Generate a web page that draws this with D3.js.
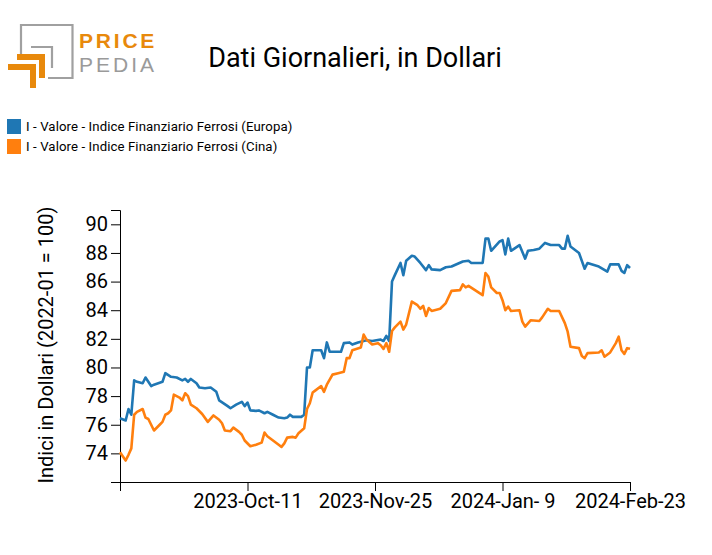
<!DOCTYPE html>
<html><head><meta charset="utf-8">
<script src="https://cdn.jsdelivr.net/npm/d3@7"></script>
<style>
html,body{margin:0;padding:0;background:#fff;}
svg{display:block;font-family:Roboto,"Noto Sans",sans-serif;}
</style></head>
<body><svg id="chart" width="712" height="555"></svg>
<script>
const seriesNames = ["I - Valore - Indice Finanziario Ferrosi (Europa)", "I - Valore - Indice Finanziario Ferrosi (Cina)"];
const seriesColors = ["#1f77b4", "#ff7f0e"];

const datesEuropa = ["2023-08-27","2023-08-29","2023-08-30","2023-08-31","2023-09-01","2023-09-02","2023-09-04","2023-09-05","2023-09-07","2023-09-08","2023-09-11","2023-09-12","2023-09-14","2023-09-16","2023-09-18","2023-09-19","2023-09-20","2023-09-21","2023-09-23","2023-09-24","2023-09-26","2023-09-28","2023-09-30","2023-10-01","2023-10-04","2023-10-05","2023-10-07","2023-10-09","2023-10-10","2023-10-11","2023-10-12","2023-10-14","2023-10-15","2023-10-17","2023-10-18","2023-10-20","2023-10-22","2023-10-24","2023-10-25","2023-10-26","2023-10-27","2023-10-30","2023-10-31","2023-11-01","2023-11-02","2023-11-03","2023-11-06","2023-11-07","2023-11-08","2023-11-09","2023-11-13","2023-11-14","2023-11-16","2023-11-17","2023-11-19","2023-11-22","2023-11-24","2023-11-27","2023-11-28","2023-11-29","2023-11-30","2023-12-01","2023-12-02","2023-12-04","2023-12-05","2023-12-06","2023-12-08","2023-12-09","2023-12-11","2023-12-13","2023-12-14","2023-12-15","2023-12-18","2023-12-20","2023-12-22","2023-12-26","2023-12-28","2023-12-29","2024-01-02","2024-01-03","2024-01-04","2024-01-05","2024-01-08","2024-01-09","2024-01-10","2024-01-11","2024-01-12","2024-01-15","2024-01-17","2024-01-18","2024-01-20","2024-01-22","2024-01-24","2024-01-26","2024-01-29","2024-01-30","2024-01-31","2024-02-01","2024-02-02","2024-02-05","2024-02-07","2024-02-08","2024-02-12","2024-02-15","2024-02-16","2024-02-19","2024-02-20","2024-02-21","2024-02-22","2024-02-23"];
const valuesEuropa = [76.45,76.3,77.1,76.7,79.1,79.0,78.9,79.3,78.7,78.8,79.0,79.6,79.35,79.3,79.1,79.2,79.0,79.2,78.9,78.6,78.55,78.6,78.3,77.7,77.3,77.15,77.4,77.6,77.3,77.55,77.0,76.97,77.0,76.8,76.9,76.7,76.5,76.45,76.5,76.7,76.55,76.55,76.7,80.0,80.0,81.2,81.2,80.65,81.75,81.1,81.1,81.7,81.75,81.6,81.75,81.9,81.85,81.95,81.85,82.2,81.85,86.0,86.45,87.3,86.45,87.45,87.8,87.75,87.3,86.8,87.15,86.85,86.8,87.0,87.05,87.4,87.45,87.3,87.3,89.0,89.0,88.15,88.8,88.9,87.9,89.0,88.15,88.55,87.6,88.15,88.2,88.3,88.7,88.55,88.55,88.3,88.3,89.2,88.45,88.0,86.9,87.3,87.05,86.7,87.2,87.2,86.75,86.6,87.15,86.95];

const datesCina = ["2023-08-27","2023-08-29","2023-08-30","2023-08-31","2023-09-01","2023-09-02","2023-09-04","2023-09-05","2023-09-06","2023-09-08","2023-09-10","2023-09-11","2023-09-12","2023-09-13","2023-09-14","2023-09-15","2023-09-17","2023-09-18","2023-09-19","2023-09-20","2023-09-21","2023-09-23","2023-09-25","2023-09-27","2023-09-29","2023-10-01","2023-10-02","2023-10-03","2023-10-05","2023-10-06","2023-10-08","2023-10-09","2023-10-10","2023-10-12","2023-10-14","2023-10-16","2023-10-17","2023-10-18","2023-10-20","2023-10-22","2023-10-23","2023-10-24","2023-10-25","2023-10-27","2023-10-28","2023-10-29","2023-10-31","2023-11-01","2023-11-02","2023-11-03","2023-11-04","2023-11-06","2023-11-07","2023-11-08","2023-11-10","2023-11-12","2023-11-14","2023-11-15","2023-11-16","2023-11-17","2023-11-20","2023-11-21","2023-11-22","2023-11-24","2023-11-26","2023-11-27","2023-11-28","2023-11-29","2023-11-30","2023-12-01","2023-12-02","2023-12-04","2023-12-05","2023-12-06","2023-12-08","2023-12-10","2023-12-11","2023-12-12","2023-12-13","2023-12-14","2023-12-15","2023-12-18","2023-12-20","2023-12-22","2023-12-25","2023-12-26","2023-12-27","2023-12-28","2024-01-02","2024-01-03","2024-01-04","2024-01-05","2024-01-07","2024-01-08","2024-01-09","2024-01-10","2024-01-11","2024-01-12","2024-01-15","2024-01-16","2024-01-17","2024-01-19","2024-01-22","2024-01-23","2024-01-25","2024-01-26","2024-01-29","2024-01-31","2024-02-01","2024-02-02","2024-02-05","2024-02-06","2024-02-07","2024-02-08","2024-02-12","2024-02-13","2024-02-14","2024-02-16","2024-02-18","2024-02-19","2024-02-20","2024-02-21","2024-02-22","2024-02-23"];
const valuesCina = [74.07,73.5,73.9,74.35,76.7,76.9,77.1,76.5,76.4,75.6,76.0,76.2,76.7,76.8,77.0,78.1,77.9,77.7,78.2,78.0,77.4,77.15,76.75,76.2,76.65,76.35,76.1,75.6,75.55,75.8,75.5,75.3,74.9,74.5,74.6,74.75,75.45,75.2,74.9,74.6,74.45,74.7,75.1,75.15,75.1,75.4,75.75,77.1,77.5,78.25,78.4,78.7,78.3,78.8,79.5,79.6,79.7,80.65,80.65,81.2,81.4,82.3,81.95,81.6,81.7,81.55,81.3,81.7,81.1,82.55,82.8,83.2,82.65,83.0,84.6,84.35,84.1,84.3,83.6,84.15,83.95,84.1,84.5,85.35,85.4,85.8,85.6,85.7,85.05,86.6,86.35,85.6,85.2,85.2,84.7,84.0,84.25,83.95,84.0,83.2,82.85,83.3,83.25,83.5,84.1,83.95,83.95,83.1,82.5,81.45,81.35,80.8,80.65,81.0,81.05,81.2,80.75,81.05,81.7,82.15,81.2,80.95,81.35,81.3];

const xTickDates = ["2023-08-27","2023-10-11","2023-11-25","2024-01-09","2024-02-23"];
const yTicks = [74,76,78,80,82,84,86,88,90];
const yDomain = [72, 91];
const titleText = "Dati Giornalieri, in Dollari";
const yLabelText = "Indici in Dollari (2022-01 = 100)";
const logoWords = ["PRICE", "PEDIA"];

const parse = d3.timeParse("%Y-%m-%d");
const svg = d3.select("#chart");

const x = d3.scaleTime().domain([parse(xTickDates[0]), parse(xTickDates[xTickDates.length-1])]).range([120, 630]);
const y = d3.scaleLinear().domain(yDomain).range([482, 210]);

// Logo
const logo = svg.append("g");
logo.append("path").attr("d","M21,58 V25 H72.5 V78 H48").attr("fill","none").attr("stroke","#a0a0a0").attr("stroke-width",2.2);
logo.append("path").attr("d","M31,47 H52 V68").attr("fill","none").attr("stroke","#a0a0a0").attr("stroke-width",2.2);
logo.append("path").attr("d","M17,57 H42 V78").attr("fill","none").attr("stroke","#e8890c").attr("stroke-width",6);
logo.append("path").attr("d","M8,67 H33 V88").attr("fill","none").attr("stroke","#e8890c").attr("stroke-width",6);
logo.append("text").attr("x",79).attr("y",48).attr("font-size",21).attr("font-family","'Liberation Sans',Arial,sans-serif")
  .attr("font-weight",700).attr("fill","#e8890c").attr("letter-spacing","2.8").text(logoWords[0]);
logo.append("text").attr("x",79).attr("y",72).attr("font-size",21).attr("font-family","'Liberation Sans',Arial,sans-serif")
  .attr("font-weight",400).attr("fill","#9a9a9a").attr("letter-spacing","3").text(logoWords[1]);

// Title
svg.append("text").attr("x",355).attr("y",67).attr("text-anchor","middle").attr("font-size",27).attr("fill","#000").text(titleText);

// Legend
seriesNames.forEach((n,i)=>{
  const g = svg.append("g").attr("transform",`translate(7,${119+i*20})`);
  g.append("rect").attr("width",14).attr("height",15).attr("fill",seriesColors[i]);
  g.append("text").attr("x",19).attr("y",12).attr("font-size",13.2).attr("letter-spacing","0.1").attr("fill","#000").text(n);
});

// Axes
const xAxis = d3.axisBottom(x).tickValues(xTickDates.map(parse)).tickSize(9).tickSizeOuter(0)
  .tickFormat((d,i)=> i===0 ? "" : d3.timeFormat("%Y-%b-%e")(d));
const gx = svg.append("g").attr("transform","translate(0,482)").call(xAxis);
gx.selectAll("text").attr("font-size",20).attr("fill","#000").attr("font-family","Roboto");
gx.selectAll("line,path").attr("stroke","#000");

const yAxis = d3.axisLeft(y).tickValues(yTicks).tickSize(9).tickSizeOuter(9);
const gy = svg.append("g").attr("transform","translate(120,0)").call(yAxis);
gy.selectAll("text").attr("font-size",20).attr("fill","#000").attr("font-family","Roboto");
gy.selectAll("line,path").attr("stroke","#000");

svg.append("text").attr("transform","translate(53,345) rotate(-90)").attr("text-anchor","middle")
  .attr("font-size",20).attr("fill","#000").text(yLabelText);

// Lines
const line = d3.line().x(d=>x(d[0])).y(d=>y(d[1]));
const series = [
  datesEuropa.map((d,i)=>[parse(d), valuesEuropa[i]]),
  datesCina.map((d,i)=>[parse(d), valuesCina[i]])
];
series.forEach((s,i)=>{
  svg.append("path").datum(s).attr("d",line).attr("fill","none").attr("stroke",seriesColors[i])
    .attr("stroke-width",2.6).attr("stroke-linejoin","round");
});
</script></body></html>
